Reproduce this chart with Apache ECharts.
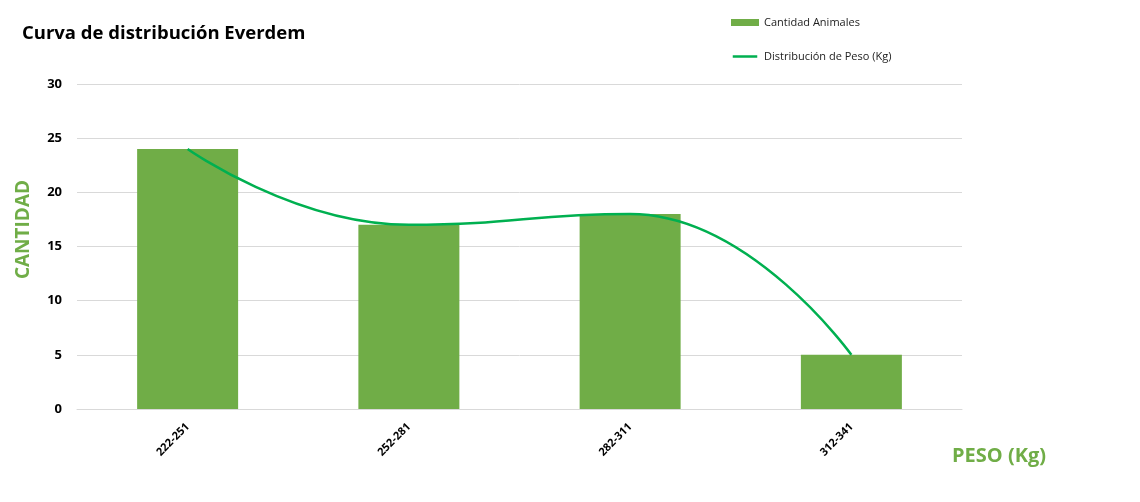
<!DOCTYPE html>
<html>
<head>
<meta charset="utf-8">
<script src="https://cdn.jsdelivr.net/npm/echarts@6/dist/echarts.min.js"></script>
<style>
  html, body { margin: 0; padding: 0; background: #fff; }
  #main { width: 1140px; height: 502px; }
</style>
</head>
<body>
<div id="main"></div>
<script>
// chart data
var categories = ["222-251", "252-281", "282-311", "312-341"];
var cantidadAnimales = [24, 17, 18, 5];
var distribucionPeso = [24, 17, 18, 5];
var yTicks = { min: 0, max: 30, interval: 5 };

var chartDom = document.getElementById("main");
var myChart = echarts.init(chartDom);
var font = "'Open Sans', sans-serif";

// flat line icon for the legend (tiny dots keep the box 8 high)
var lineIcon = "path://M0,0L0.01,0Z M0,2.5L28,2.5L28,5.5L0,5.5Z M0,8L0.01,8Z";

var option = {
  animation: false,
  title: {
    text: "Curva de distribución Everdem",
    left: 17,
    top: 19,
    textStyle: { fontFamily: font, fontWeight: "bold", fontSize: 18.5, color: "#000" },
  },
  legend: {
    orient: "vertical",
    left: 726,
    top: 12,
    itemGap: 23,
    itemWidth: 28,
    itemHeight: 7,
    textStyle: { fontFamily: font, fontSize: 11, color: "#222" },
    data: [
      { name: "Cantidad Animales", icon: "rect" },
      { name: "Distribución de Peso (Kg)", icon: lineIcon, itemStyle: { color: "#00B050" } },
    ],
  },
  grid: { left: 77, right: 178, top: 84, bottom: 93 },
  xAxis: {
    type: "category",
    data: categories,
    axisTick: { show: false },
    axisLine: { lineStyle: { color: "#d9d9d9" } },
    axisLabel: {
      rotate: 45,
      margin: 16,
      fontFamily: font,
      fontWeight: "bold",
      fontSize: 11,
      color: "#000",
    },
  },
  yAxis: {
    type: "value",
    min: yTicks.min,
    max: yTicks.max,
    interval: yTicks.interval,
    name: "CANTIDAD",
    nameLocation: "middle",
    nameGap: 44,
    nameTextStyle: {
      fontFamily: font,
      fontWeight: "bold",
      fontSize: 19,
      color: "#70AD47",
      padding: [0, 0, 0, 34],
    },
    splitLine: { lineStyle: { color: "#d9d9d9" } },
    axisLabel: { margin: 15, fontFamily: font, fontWeight: "bold", fontSize: 13, color: "#000" },
  },
  graphic: [
    {
      type: "text",
      left: 952,
      top: 446,
      style: {
        text: "PESO (Kg)",
        font: "bold 20px 'Open Sans', sans-serif",
        fill: "#70AD47",
      },
    },
  ],
  series: [
    {
      name: "Cantidad Animales",
      type: "bar",
      data: cantidadAnimales,
      barWidth: 101,
      itemStyle: { color: "#70AD47" },
    },
    {
      name: "Distribución de Peso (Kg)",
      type: "line",
      data: distribucionPeso,
      smooth: 0.5,
      symbol: "none",
      lineStyle: { color: "#00B050", width: 2.5 },
      itemStyle: { color: "#00B050" },
    },
  ],
};

option && myChart.setOption(option);
</script>
</body>
</html>
